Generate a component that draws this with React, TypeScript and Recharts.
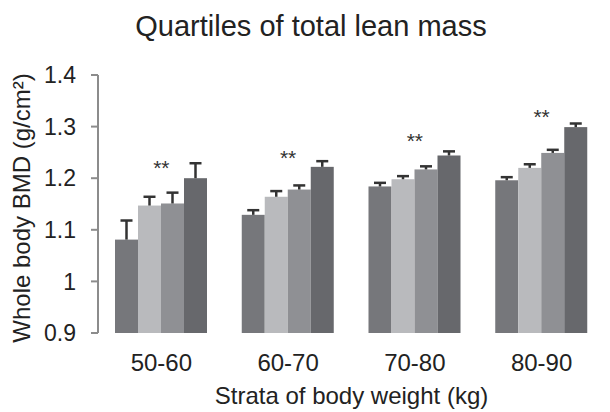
import { Bar, ComposedChart, Label, Scatter, XAxis, YAxis } from 'recharts'

const strata = ['50-60', '60-70', '70-80', '80-90']
const q1 = [1.081, 1.129, 1.184, 1.196]
const q2 = [1.147, 1.164, 1.198, 1.22]
const q3 = [1.151, 1.178, 1.217, 1.249]
const q4 = [1.2, 1.222, 1.244, 1.299]
const e1 = [0.037, 0.009, 0.007, 0.006]
const e2 = [0.017, 0.011, 0.006, 0.007]
const e3 = [0.021, 0.008, 0.006, 0.006]
const e4 = [0.029, 0.011, 0.008, 0.007]
const stars = [1.229, 1.249, 1.281, 1.328]
const yTicks = [0.9, 1, 1.1, 1.2, 1.3, 1.4]
const edgeTicks = [0, 1, 2, 3]

const data = strata.map((g, i) => ({
  g,
  q1: q1[i],
  q2: q2[i],
  q3: q3[i],
  q4: q4[i],
  e1: e1[i],
  e2: e2[i],
  e3: e3[i],
  e4: e4[i],
  star: stars[i],
}))

const FONT = '"Liberation Sans", Arial, Helvetica, sans-serif'
const AXIS = '#8c8c8c'
const Y_MIN = 0.9

// bar plus an upper-only error whisker, scaled off the bar's own pixel height
function barWithErr(valKey: string, errKey: string) {
  return (p: any) => {
    const { x, y, width, height, fill, payload } = p
    const k = height / (payload[valKey] - Y_MIN)
    const top = y - payload[errKey] * k
    const cx = x + width / 2
    return (
      <g>
        <rect x={x} y={y} width={width} height={height} fill={fill} />
        <line x1={cx} y1={y} x2={cx} y2={top} stroke="#333" strokeWidth={2.5} />
        <line x1={cx - 6} y1={top} x2={cx + 6} y2={top} stroke="#333" strokeWidth={2.5} />
      </g>
    )
  }
}

function StarMark(p: any) {
  return (
    <text x={p.cx} y={p.cy + 12} textAnchor="middle" fontSize={21} fontFamily={FONT} fill="#333">
      **
    </text>
  )
}

export default function App() {
  return (
    <div style={{ position: 'absolute', left: 0, top: 0, width: 610, height: 412, background: '#fff' }}>
      <div
        style={{
          position: 'absolute',
          left: 6,
          top: 12,
          width: 610,
          textAlign: 'center',
          fontFamily: FONT,
          fontSize: 29,
          lineHeight: '29px',
          color: '#222',
        }}
      >
        Quartiles of total lean mass
      </div>
      <ComposedChart width={610} height={412} data={data} margin={{ top: 75, right: 5, bottom: 8, left: 0 }} barGap={0}>
        <XAxis
          xAxisId="edge"
          type="number"
          domain={[0, 4]}
          allowDataOverflow
          ticks={edgeTicks}
          tickFormatter={() => ''}
          height={0}
          tickSize={7}
          stroke={AXIS}
          strokeWidth={2}
        />
        <XAxis
          xAxisId="cat"
          dataKey="g"
          height={71}
          axisLine={false}
          tickLine={false}
          tickSize={0}
          tickMargin={21}
          tick={{ fill: '#222', fontSize: 24, fontFamily: FONT }}
        >
          <Label
            value="Strata of body weight (kg)"
            position="insideBottom"
            offset={0}
            fill="#222"
            fontSize={24}
            fontFamily={FONT}
          />
        </XAxis>
        <YAxis
          domain={[0.9, 1.4]}
          ticks={yTicks}
          width={98}
          tickSize={7}
          tickMargin={15}
          stroke={AXIS}
          strokeWidth={2}
          tick={{ fill: '#222', fontSize: 23, fontFamily: FONT }}
        >
          <Label
            value="Whole body BMD (g/cm²)"
            angle={-90}
            position="insideLeft"
            offset={21}
            dy={4}
            fill="#222"
            fontSize={24}
            fontFamily={FONT}
            style={{ textAnchor: 'middle' }}
          />
        </YAxis>
        <Bar xAxisId="cat" dataKey="q1" fill="#76777b" barSize={23} isAnimationActive={false} shape={barWithErr('q1', 'e1')} />
        <Bar xAxisId="cat" dataKey="q2" fill="#b9babd" barSize={23} isAnimationActive={false} shape={barWithErr('q2', 'e2')} />
        <Bar xAxisId="cat" dataKey="q3" fill="#8f9094" barSize={23} isAnimationActive={false} shape={barWithErr('q3', 'e3')} />
        <Bar xAxisId="cat" dataKey="q4" fill="#67686c" barSize={23} isAnimationActive={false} shape={barWithErr('q4', 'e4')} />
        <Scatter xAxisId="cat" dataKey="star" shape={StarMark} isAnimationActive={false} />
      </ComposedChart>
    </div>
  )
}
